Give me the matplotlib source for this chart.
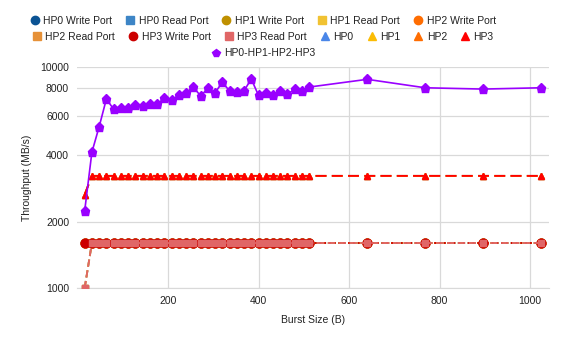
import matplotlib.pyplot as plt
from matplotlib.lines import Line2D

plt.rcParams['font.family'] = ['Liberation Sans', 'DejaVu Sans']

burst = [16, 32, 48, 64, 80, 96, 112, 128, 144, 160, 176, 192, 208, 224, 240, 256,
         272, 288, 304, 320, 336, 352, 368, 384, 400, 416, 432, 448, 464, 480, 496, 512,
         640, 768, 896, 1024]

# per-port write / read throughput (all ports overlap, HP3 drawn on top)
write_port = [1600, 1600, 1600, 1600, 1600, 1600, 1600, 1600, 1600, 1600, 1600, 1600,
              1600, 1600, 1600, 1600, 1600, 1600, 1600, 1600, 1600, 1600, 1600, 1600,
              1600, 1600, 1600, 1600, 1600, 1600, 1600, 1600, 1600, 1600, 1600, 1600]
read_port = [1000, 1600, 1600, 1600, 1600, 1600, 1600, 1600, 1600, 1600, 1600, 1600,
             1600, 1600, 1600, 1600, 1600, 1600, 1600, 1600, 1600, 1600, 1600, 1600,
             1600, 1600, 1600, 1600, 1600, 1600, 1600, 1600, 1600, 1600, 1600, 1600]
# single port, read + write
single_port = [2650, 3220, 3220, 3220, 3220, 3220, 3220, 3220, 3220, 3220, 3220, 3220,
               3220, 3220, 3220, 3220, 3220, 3220, 3220, 3220, 3220, 3220, 3220, 3220,
               3220, 3220, 3220, 3220, 3220, 3220, 3220, 3220, 3220, 3220, 3220, 3220]
# all four ports together
all_ports = [2230, 4120, 5370, 7170, 6450, 6500, 6500, 6730, 6660, 6800, 6800, 7210,
             7070, 7450, 7650, 8140, 7400, 8000, 7650, 8530, 7810, 7680, 7810, 8830,
             7450, 7600, 7470, 7790, 7550, 7930, 7790, 8120, 8800, 8060, 7950, 8060]

ports = ['HP0', 'HP1', 'HP2', 'HP3']
write_colors = ['#0b5394', '#bf9000', '#ff6d01', '#cc0000']
read_colors = ['#3d85c6', '#f1c232', '#e69138', '#e06666']
tri_colors = ['#4a86e8', '#fbbc04', '#ff6d01', '#ff0000']
all_color = '#9900ff'

fig = plt.figure(figsize=(5.65, 3.37), dpi=100)
ax = fig.add_axes([0.137, 0.145, 0.835, 0.656])

for i, p in enumerate(ports):
    ax.plot(burst, write_port, color=write_colors[i], ls=':', lw=1.3,
            marker='o', ms=6.3, mec=write_colors[i], zorder=3)
    ax.plot(burst, read_port, color=read_colors[i], ls=(0, (4, 2)), lw=1.3,
            marker='s', ms=4.8, mec=read_colors[i], zorder=3)
for i, p in enumerate(ports):
    ax.plot(burst, single_port, color=tri_colors[i], ls=(0, (6, 3)), lw=1.3,
            marker='^', ms=5.0, zorder=4)
ax.plot(burst, all_ports, color=all_color, lw=1.2, marker='p', ms=6.8, zorder=5)

ax.set_yscale('log')
ax.set_ylim(1000, 10000)
ax.set_xlim(0, 1042)
yticks = [1000, 2000, 4000, 6000, 8000, 10000]
ax.set_yticks(yticks)
ax.set_yticklabels([str(t) for t in yticks])
ax.minorticks_off()
ax.set_xticks([200, 400, 600, 800, 1000])
ax.grid(True, color='#d9d9d9', lw=0.9)
ax.set_axisbelow(True)
for s in ['top', 'right', 'left']:
    ax.spines[s].set_visible(False)
ax.spines['bottom'].set_color('#d9d9d9')
ax.tick_params(length=0, labelsize=7.5, colors='#222222', pad=6)
ax.set_xlabel('Burst Size (B)', fontsize=7.5, color='#222222', labelpad=6)
ax.set_ylabel('Throughput (MB/s)', fontsize=7.5, color='#222222', labelpad=6)


def handle(color, marker, label):
    return Line2D([], [], ls='none', marker=marker, color=color, ms=6, label=label)


row1 = [handle(write_colors[0], 'o', 'HP0 Write Port'),
        handle(read_colors[0], 's', 'HP0 Read Port'),
        handle(write_colors[1], 'o', 'HP1 Write Port'),
        handle(read_colors[1], 's', 'HP1 Read Port'),
        handle(write_colors[2], 'o', 'HP2 Write Port')]
row2 = [handle(read_colors[2], 's', 'HP2 Read Port'),
        handle(write_colors[3], 'o', 'HP3 Write Port'),
        handle(read_colors[3], 's', 'HP3 Read Port'),
        handle(tri_colors[0], '^', 'HP0'),
        handle(tri_colors[1], '^', 'HP1'),
        handle(tri_colors[2], '^', 'HP2'),
        handle(tri_colors[3], '^', 'HP3')]
row3 = [handle(all_color, 'p', 'HP0-HP1-HP2-HP3')]

for rows, y in [(row1, 0.938), (row2, 0.890), (row3, 0.842)]:
    fig.legend(handles=rows, loc='center', bbox_to_anchor=(0.465, y), ncol=len(rows),
               frameon=False, fontsize=7.5, handlelength=1.0, handletextpad=0.3,
               columnspacing=1.25, borderpad=0, labelcolor='#222222')

fig.savefig('out.png', dpi=100)
